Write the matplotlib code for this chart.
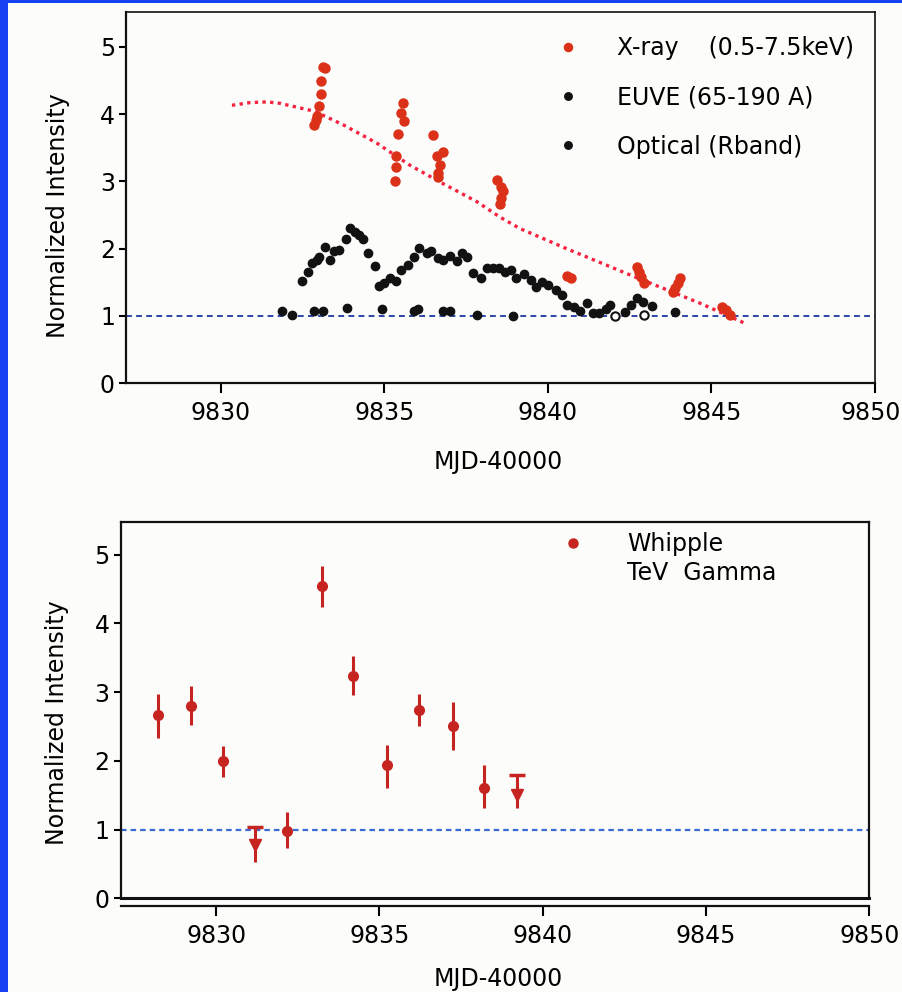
import matplotlib
matplotlib.use('Agg')
import matplotlib.pyplot as plt
import matplotlib.transforms as mtransforms
from matplotlib.lines import Line2D
from matplotlib.patches import Rectangle

plt.rcParams['font.family'] = ['DejaVu Sans']

# ---------------- data ----------------
xray_x = [9832.84, 9832.90, 9832.95, 9833.00, 9833.05, 9833.05, 9833.13, 9833.18,
          9835.32, 9835.37, 9835.37, 9835.43, 9835.50, 9835.56, 9835.60,
          9836.49, 9836.60, 9836.65, 9836.65, 9836.70, 9836.78,
          9838.43, 9838.53, 9838.55, 9838.58, 9838.62,
          9840.57, 9840.72,
          9842.73, 9842.79, 9842.86, 9842.94,
          9843.83, 9843.88, 9843.98, 9844.04,
          9845.31, 9845.44, 9845.57]
xray_y = [3.84, 3.91, 3.97, 4.12, 4.30, 4.49, 4.70, 4.68,
          3.00, 3.21, 3.37, 3.71, 4.01, 4.16, 3.89,
          3.69, 3.37, 3.12, 3.06, 3.24, 3.44,
          3.02, 2.66, 2.75, 2.92, 2.85,
          1.59, 1.56,
          1.73, 1.66, 1.58, 1.49,
          1.35, 1.41, 1.49, 1.57,
          1.14, 1.09, 1.01]

euve_x = [9832.49, 9832.65, 9832.80, 9832.95, 9833.01, 9833.18, 9833.33, 9833.46,
          9833.62, 9833.82, 9833.94, 9834.10, 9834.23, 9834.35, 9834.50, 9834.71,
          9834.84, 9834.98, 9835.17, 9835.37, 9835.52, 9835.73, 9835.90, 9836.06,
          9836.29, 9836.44, 9836.64, 9836.79, 9837.00, 9837.21, 9837.36, 9837.53,
          9837.70, 9837.94, 9838.14, 9838.33, 9838.51, 9838.69, 9838.86, 9839.02,
          9839.27, 9839.47, 9839.63, 9839.81, 9840.01, 9840.24, 9840.42, 9840.59,
          9840.79, 9840.98, 9841.18, 9841.38, 9841.57, 9841.77, 9841.89, 9842.35,
          9842.55, 9842.73, 9842.91, 9843.17]
euve_y = [1.52, 1.66, 1.78, 1.83, 1.87, 2.03, 1.83, 1.96,
          1.98, 2.14, 2.30, 2.25, 2.20, 2.14, 1.93, 1.74,
          1.45, 1.49, 1.56, 1.52, 1.68, 1.76, 1.88, 2.01,
          1.94, 1.96, 1.86, 1.83, 1.89, 1.81, 1.94, 1.88,
          1.64, 1.56, 1.71, 1.71, 1.72, 1.66, 1.68, 1.57,
          1.63, 1.53, 1.43, 1.51, 1.46, 1.39, 1.31, 1.16,
          1.14, 1.08, 1.19, 1.05, 1.05, 1.10, 1.16, 1.06,
          1.16, 1.26, 1.21, 1.15]

optical_x = [9831.86, 9832.19, 9832.84, 9833.11, 9833.87, 9834.93, 9835.90, 9836.03,
             9836.79, 9837.02, 9837.84, 9838.94, 9843.88]
optical_y = [1.07, 1.01, 1.07, 1.07, 1.12, 1.10, 1.08, 1.10,
             1.07, 1.07, 1.01, 1.00, 1.06]
optical_open_x = [9842.05, 9842.94]
optical_open_y = [1.00, 1.01]

trend_x = [9830.34, 9830.90, 9831.40, 9831.80, 9832.87, 9833.74, 9834.76, 9835.78,
           9836.70, 9837.82, 9838.53, 9839.14, 9840.57, 9842.61, 9844.65, 9846.03]
trend_y = [4.13, 4.17, 4.18, 4.16, 4.04, 3.84, 3.57, 3.24,
           2.99, 2.70, 2.47, 2.30, 2.00, 1.59, 1.19, 0.89]

tev_x = [9828.23, 9829.23, 9830.22, 9832.18, 9833.23, 9834.20, 9835.22, 9836.22,
         9837.24, 9838.20]
tev_y = [2.66, 2.80, 2.00, 0.98, 4.54, 3.24, 1.94, 2.74, 2.51, 1.61]
tev_hi = [2.98, 3.09, 2.21, 1.26, 4.83, 3.52, 2.23, 2.98, 2.86, 1.94]
tev_lo = [2.33, 2.52, 1.77, 0.73, 4.24, 2.96, 1.61, 2.50, 2.16, 1.31]

tev_ul_x = [9831.19, 9839.20]
tev_ul_y = [0.78, 1.50]
tev_ul_limit = [1.04, 1.79]
tev_ul_lo = [0.53, 1.31]

xticks = [9830, 9835, 9840, 9845, 9850]
yticks = [0, 1, 2, 3, 4, 5]

xray_label = 'X-ray    (0.5-7.5keV)'
euve_label = 'EUVE (65-190 A)'
optical_label = 'Optical (Rband)'
tev_label = ['Whipple', 'TeV  Gamma']
xlabel = 'MJD-40000'
ylabel = 'Normalized Intensity'

# ---------------- figure ----------------
W, H = 903, 992
fig = plt.figure(figsize=(W / 100, H / 100), dpi=100)
fig.patch.set_facecolor('#1840f4')
fig.add_artist(Rectangle((8 / W, 0), 1 - 8 / W, 1 - 3 / H, transform=fig.transFigure,
                         facecolor='#fcfcfa', edgecolor='none', zorder=-20))

FS = 17
red_x = '#dc3119'
red_t = '#c62420'
trend_c = '#f52240'

def style(ax, xl, yl):
    ax.set_facecolor('none')
    ax.set_xlim(*xl)
    ax.set_ylim(*yl)
    ax.set_xticks(xticks)
    ax.set_yticks(yticks)
    ax.tick_params(axis='x', direction='out', length=7, width=1.5, pad=6, labelsize=FS)
    ax.tick_params(axis='y', direction='out', length=5, width=1.5, pad=3, labelsize=FS)
    for s in ax.spines.values():
        s.set_linewidth(1.6)
        s.set_color('#111111')
    # keep the last x tick label (at the right spine) inside the picture
    last = ax.get_xticklabels()[-1]
    last.set_transform(last.get_transform() +
                       mtransforms.ScaledTranslation(-4 / 100, 0, fig.dpi_scale_trans))

# ---- top panel ----
ax1 = fig.add_axes([126 / W, 1 - 383.3 / H, (875 - 126) / W, (383.3 - 11.7) / H])
style(ax1, (9827.1, 9850), (0, 5.52))
ax1.spines['top'].set_linewidth(1.2)
ax1.spines['right'].set_linewidth(1.2)
ax1.axhline(1.0, color='#2c46a8', lw=1.4, ls=(0, (3, 2.2)), zorder=1)
ax1.plot(trend_x, trend_y, color=trend_c, lw=2.4, ls=(0, (1, 1.3)), zorder=2)
ax1.plot(xray_x, xray_y, 'o', color=red_x, ms=6.5, mec=red_x, zorder=4, label=xray_label)
ax1.plot(euve_x, euve_y, 'o', color='#121212', ms=6, zorder=3, label=euve_label)
ax1.plot(optical_x, optical_y, 'o', color='#121212', ms=6, zorder=3, label=optical_label)
ax1.plot(optical_open_x, optical_open_y, 'o', mfc='white', mec='#121212', mew=1.5,
         ms=6, zorder=3)
ax1.legend(loc='upper left', bbox_to_anchor=(556 / W, 1 - 36 / H),
           bbox_transform=fig.transFigure, frameon=False, fontsize=FS,
           handlelength=1.0, handletextpad=1.6, labelspacing=1.07,
           borderpad=0, borderaxespad=0, markerscale=0.9)

# ---- bottom panel ----
ax2 = fig.add_axes([120.7 / W, 1 - 898.3 / H, (869.3 - 120.7) / W, (898.3 - 521.7) / H])
style(ax2, (9827.08, 9850), (0, 5.48))
ax2.spines['bottom'].set_position(('outward', 5.3))
ax2.axhline(0.0, color='#111111', lw=2.2, zorder=1, clip_on=False)
ax2.axhline(1.0, color='#3a6cd4', lw=1.6, ls=(0, (2.5, 1.8)), zorder=1)
yerr = [[y - lo for y, lo in zip(tev_y, tev_lo)], [hi - y for y, hi in zip(tev_y, tev_hi)]]
ax2.errorbar(tev_x, tev_y, yerr=yerr, fmt='o', color=red_t, ms=7, elinewidth=2.2,
             capsize=0, zorder=4)
ax2.vlines(tev_ul_x, tev_ul_lo, tev_ul_limit, color=red_t, lw=2.2, zorder=4)
ax2.plot(tev_ul_x, tev_ul_limit, '_', color=red_t, ms=11, mew=2.5, zorder=4)
ax2.plot(tev_ul_x, tev_ul_y, 'v', color=red_t, ms=8, zorder=5)
h_tev = Line2D([], [], marker='o', ls='none', color=red_t, ms=6.5)
h_blank = Line2D([], [], ls='none')
ax2.legend([h_tev, h_blank], tev_label, loc='upper left',
           bbox_to_anchor=(561 / W, 1 - 532 / H), bbox_transform=fig.transFigure,
           frameon=False, fontsize=FS, handlelength=1.0, handletextpad=1.8,
           labelspacing=0.23, borderpad=0, borderaxespad=0)

# ---- axis labels ----
fig.text(58 / W, 1 - 216 / H, ylabel, rotation=90, ha='center', va='center', fontsize=FS)
fig.text(57 / W, 1 - 722.5 / H, ylabel, rotation=90, ha='center', va='center', fontsize=FS)
fig.text(498 / W, 1 - 462 / H, xlabel, ha='center', va='center', fontsize=FS)
fig.text(498 / W, 1 - 979 / H, xlabel, ha='center', va='center', fontsize=FS)

fig.savefig('out.png', dpi=100, facecolor=fig.get_facecolor())
